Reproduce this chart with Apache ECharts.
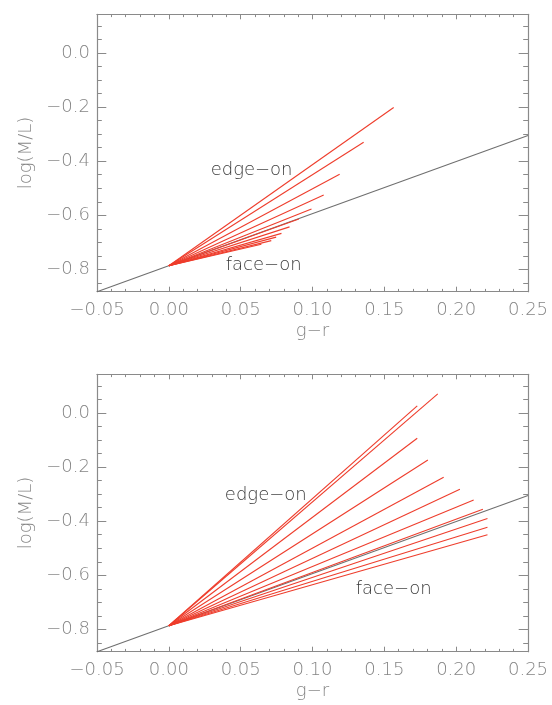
<!DOCTYPE html>
<html>
<head>
<meta charset="utf-8">
<script src="https://cdn.jsdelivr.net/npm/echarts@6/dist/echarts.min.js"></script>
<style>
html,body{margin:0;padding:0;background:#fff;}
#c{width:552px;height:705px;}
</style>
</head>
<body>
<div id="c"></div>
<script>
// ---- data ----
const xMin = -0.05, xMax = 0.25;
const yMin = -0.883, yMax = 0.144;
const origin = [0.0, -0.787];
const topEndX = [0.1565, 0.1356, 0.1189, 0.1078, 0.0993, 0.0905, 0.0840, 0.0784, 0.0747, 0.0713, 0.0644];
const topEndY = [-0.201, -0.330, -0.448, -0.525, -0.577, -0.614, -0.643, -0.667, -0.681, -0.694, -0.707];
const botEndX = [0.1872, 0.1729, 0.1729, 0.1803, 0.1913, 0.2026, 0.2122, 0.2186, 0.2218, 0.2218, 0.2218];
const botEndY = [0.0715, 0.027, -0.0926, -0.173, -0.237, -0.2815, -0.321, -0.356, -0.390, -0.422, -0.450];
const grayX = [-0.05, 0.25];
const grayY = [-0.883, -0.305];
const yMajorTicks = [-0.8, -0.6, -0.4, -0.2, 0.0];
const yMinorTicks = [-0.85, -0.75, -0.7, -0.65, -0.55, -0.5, -0.45, -0.35, -0.3, -0.25, -0.15, -0.1, -0.05, 0.05, 0.1];
const annText = ['edge\u2212on', 'face\u2212on'];
const topAnnX = [0.0576, 0.066];
const topAnnY = [-0.435, -0.784];
const botAnnX = [0.0675, 0.1565];
const botAnnY = [-0.303, -0.652];
const xName = 'g\u2212r';
const yName = 'log(M/L)';

// ---- styling ----
const AX = '#8a8a8a';
const LBL = '#858585';
const FONT = 'DejaVu Sans';
const FW = 200;
const RED = '#ee3d2c';
const GRAY = '#6f6f6f';

function fmt(v, d){
  const s = Math.abs(v).toFixed(d);
  return (v < -1e-9 ? '\u2212' : '') + s;
}

const grids = [], xAxes = [], yAxes = [], series = [];
const panelTops = [14.3, 374.3];
const panels = [
  {endX: topEndX, endY: topEndY, annX: topAnnX, annY: topAnnY},
  {endX: botEndX, endY: botEndY, annX: botAnnX, annY: botAnnY}
];

panels.forEach((p, i) => {
  grids.push({left: 97, top: panelTops[i], width: 431, height: 277.4, outerBoundsMode: 'none', containLabel: false});
  const xb = {
    type: 'value', gridIndex: i, min: xMin, max: xMax, interval: 0.05,
    axisLine: {show: true, onZero: false, lineStyle: {color: AX, width: 1.2}},
    axisTick: {show: true, inside: true, length: 5, lineStyle: {color: AX, width: 1}},
    minorTick: {show: true, splitNumber: 5, length: 2.8, lineStyle: {color: AX, width: 1}},
    splitLine: {show: false}, minorSplitLine: {show: false}
  };
  xAxes.push(Object.assign({}, xb, {
    position: 'bottom',
    name: xName, nameLocation: 'middle', nameGap: 31, nameMoveOverlap: false,
    nameTextStyle: {color: LBL, fontFamily: FONT, fontWeight: FW, fontSize: 18},
    axisLabel: {show: true, margin: 10, color: LBL, fontFamily: FONT, fontWeight: FW, fontSize: 18,
      showMinLabel: true, showMaxLabel: true, hideOverlap: false,
      formatter: v => fmt(v, 2)}
  }));
  xAxes.push(Object.assign({}, xb, {position: 'top', axisLabel: {show: false}}));

  const yb = {
    type: 'value', gridIndex: i, min: yMin, max: yMax,
    splitLine: {show: false}
  };
  yAxes.push(Object.assign({}, yb, {
    position: 'left',
    name: yName, nameLocation: 'middle', nameGap: 62, nameMoveOverlap: false,
    nameTextStyle: {color: LBL, fontFamily: FONT, fontWeight: FW, fontSize: 18},
    axisLine: {show: true, onZero: false, lineStyle: {color: AX, width: 1.2}},
    axisTick: {show: true, inside: true, length: 9.3, customValues: yMajorTicks, lineStyle: {color: AX, width: 1}},
    axisLabel: {show: true, margin: 7, color: LBL, fontFamily: FONT, fontWeight: FW, fontSize: 18,
      customValues: yMajorTicks, hideOverlap: false, formatter: v => fmt(v, 1)}
  }));
  yAxes.push(Object.assign({}, yb, {
    position: 'right',
    axisLine: {show: true, onZero: false, lineStyle: {color: AX, width: 1.2}},
    axisTick: {show: true, inside: true, length: 9.3, customValues: yMajorTicks, lineStyle: {color: AX, width: 1}},
    axisLabel: {show: false}
  }));
  yAxes.push(Object.assign({}, yb, {
    position: 'left',
    axisLine: {show: false, onZero: false},
    axisTick: {show: true, inside: true, length: 4.8, customValues: yMinorTicks, lineStyle: {color: AX, width: 1}},
    axisLabel: {show: false}
  }));
  yAxes.push(Object.assign({}, yb, {
    position: 'right',
    axisLine: {show: false, onZero: false},
    axisTick: {show: true, inside: true, length: 4.8, customValues: yMinorTicks, lineStyle: {color: AX, width: 1}},
    axisLabel: {show: false}
  }));

  const xi = 2 * i, yi = 4 * i;
  series.push({
    type: 'line', xAxisIndex: xi, yAxisIndex: yi, symbol: 'none', silent: true,
    lineStyle: {color: GRAY, width: 1.1}, z: 3,
    data: grayX.map((x, k) => [x, grayY[k]])
  });
  p.endX.forEach((ex, k) => {
    series.push({
      type: 'line', xAxisIndex: xi, yAxisIndex: yi, symbol: 'none', silent: true,
      lineStyle: {color: RED, width: 1.1}, z: 4,
      data: [[origin[0], origin[1]], [ex, p.endY[k]]]
    });
  });
  series.push({
    type: 'scatter', xAxisIndex: xi, yAxisIndex: yi, symbolSize: 1, silent: true,
    itemStyle: {color: 'rgba(0,0,0,0)'}, z: 5,
    label: {show: true, position: 'inside', color: '#000', fontFamily: FONT, fontWeight: 300, fontSize: 18,
      formatter: prm => annText[prm.dataIndex]},
    data: p.annX.map((x, k) => [x, p.annY[k]])
  });
});

const chart = echarts.init(document.getElementById('c'), null, {renderer: 'canvas'});
chart.setOption({
  animation: false,
  backgroundColor: '#fff',
  grid: grids,
  xAxis: xAxes,
  yAxis: yAxes,
  series: series
});
</script>
</body>
</html>
